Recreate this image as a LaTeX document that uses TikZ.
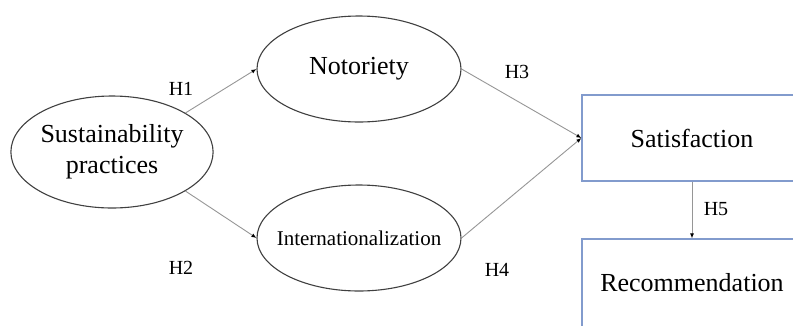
\documentclass[tikz,border=0pt]{standalone}
\usepackage{fontspec}
\setmainfont{Liberation Serif}
\usetikzlibrary{shapes.geometric,arrows.meta}
\definecolor{boxblue}{RGB}{130,155,205}
\definecolor{linegray}{RGB}{150,150,150}
\begin{document}
\begin{tikzpicture}[x=1pt,y=-1pt,
  construct/.style={draw=black!75,line width=1.1pt,ellipse,inner sep=0pt,
    minimum width=204pt,minimum height=106pt,align=center,
    font=\fontsize{26}{31}\selectfont},
  outcome/.style={draw=boxblue,line width=1.2pt,rectangle,inner sep=0pt,
    minimum width=220pt,minimum height=86pt,font=\fontsize{26}{30}\selectfont},
  path/.style={draw=linegray,line width=0.9pt,-{Latex[length=5pt,width=4pt,color=black]}},
  hyp/.style={font=\fontsize{20}{24}\selectfont}]

\clip (0,0) rectangle (793,325);

% Constructs
\node[construct,minimum width=201pt,minimum height=112pt] (sus) at (112,152) {Sustainability\\practices};
\node[construct] (not) at (359,69) {Notoriety};
\node[construct,inner xsep=-12pt,font=\fontsize{21}{25}\selectfont] (int) at (359,238) {Internationalization};

% Outcomes
\node[outcome] (sat) at (692,138) {Satisfaction};
\node[outcome,minimum height=100pt,text depth=14pt] (rec) at (692,289) {Recommendation};

% Paths
\draw[path] (sus.28) -- (not.west);
\draw[path] (sus.-28) -- (int.west);
\draw[path] (not.east) -- (sat.west);
\draw[path] (int.east) -- (sat.west);
\draw[path] (sat.south) -- (rec.north);

% Hypotheses
\node[hyp] (h1) at (181,89) {H1};
\node[hyp] (h2) at (181,268) {H2};
\node[hyp] (h3) at (517,72) {H3};
\node[hyp] (h4) at (497,270) {H4};
\node[hyp] (h5) at (716,209) {H5};

\end{tikzpicture}
\end{document}
